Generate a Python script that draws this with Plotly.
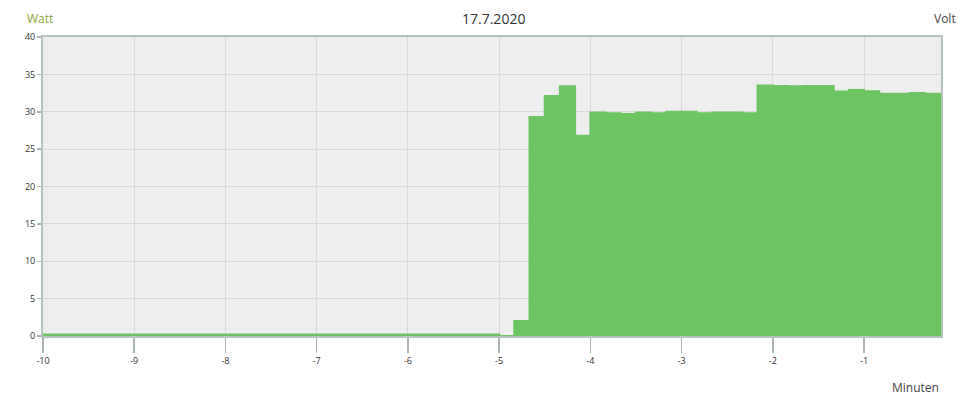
import plotly.graph_objects as go

# Sample times in seconds relative to now, and power values (Watt)
seconds = [-600, -300, -290, -280, -270, -260, -250, -240, -230, -220, -210,
           -200, -190, -180, -170, -160, -150, -140, -130, -120, -110, -100,
           -90, -80, -70, -60, -50, -40, -30, -20, -10, 0]
watt = [0.2, 0.0, 2.0, 29.3, 32.1, 33.4, 26.8, 29.9, 29.8, 29.7, 29.9,
        29.8, 30.0, 30.0, 29.8, 29.9, 29.9, 29.8, 33.5, 33.45, 33.4, 33.45,
        33.45, 32.7, 32.9, 32.75, 32.4, 32.4, 32.5, 32.4, 32.4, 32.4]
minutes = [s / 60 for s in seconds]

x_ticks = [-10, -9, -8, -7, -6, -5, -4, -3, -2, -1]
y_ticks = [0, 5, 10, 15, 20, 25, 30, 35, 40]

title_text = "17.7.2020"
left_unit = "Watt"
right_unit = "Volt"
x_title = "Minuten"

GREEN = "#6cc462"
AXIS = "#b5c1c1"
GRID = "#d9d9d9"
FONT = "Open Sans"

fig = go.Figure()
fig.add_trace(go.Scatter(
    x=minutes, y=watt, mode="lines", line_shape="hv",
    line=dict(color=GREEN, width=2), fill="tozeroy", fillcolor=GREEN,
    hoverinfo="skip", showlegend=False,
))

fig.update_layout(
    width=976, height=400,
    margin=dict(l=43, r=35, t=37, b=64),
    paper_bgcolor="white", plot_bgcolor="#eeeeee",
    font=dict(family=FONT, color="#333333"),
    showlegend=False,
)
fig.update_xaxes(
    range=[-10, -0.156], tickvals=x_ticks, ticktext=[str(v) for v in x_ticks],
    showgrid=True, gridcolor=GRID, gridwidth=1,
    showline=True, linecolor=AXIS, linewidth=2, mirror=True,
    ticks="outside", ticklen=15, tickwidth=1.5, tickcolor="#a9b5b5",
    tickfont=dict(size=9, color="#333333", family=FONT),
    zeroline=False, fixedrange=True,
)
fig.update_yaxes(
    range=[0, 40], tickvals=y_ticks, ticktext=[str(v) for v in y_ticks],
    showgrid=True, gridcolor=GRID, gridwidth=1,
    showline=True, linecolor=AXIS, linewidth=2, mirror=True,
    ticks="outside", ticklen=4, tickwidth=1.5, tickcolor="#a9b5b5",
    tickfont=dict(size=9, color="#333333", family=FONT),
    zeroline=False, fixedrange=True,
)

fig.add_annotation(text=title_text, xref="paper", yref="paper", x=(493 - 43) / 898,
                   y=1, yshift=19, xanchor="center", yanchor="middle", showarrow=False,
                   font=dict(size=14, color="#333333", family=FONT))
fig.add_annotation(text=left_unit, xref="paper", yref="paper", x=-18 / 898,
                   y=1, yshift=19, xanchor="left", yanchor="middle", showarrow=False,
                   font=dict(size=12, color="#8aa43c", family=FONT))
fig.add_annotation(text=right_unit, xref="paper", yref="paper", x=1 + 17 / 898,
                   y=1, yshift=19, xanchor="right", yanchor="middle", showarrow=False,
                   font=dict(size=12, color="#444444", family=FONT))
fig.add_annotation(text=x_title, xref="paper", yref="paper", x=1,
                   y=0, yshift=-51, xanchor="right", yanchor="middle", showarrow=False,
                   font=dict(size=12, color="#444444", family=FONT))

fig.write_html("out.html", config={"displayModeBar": False, "staticPlot": True},
               post_script="document.body.style.margin='0';")
